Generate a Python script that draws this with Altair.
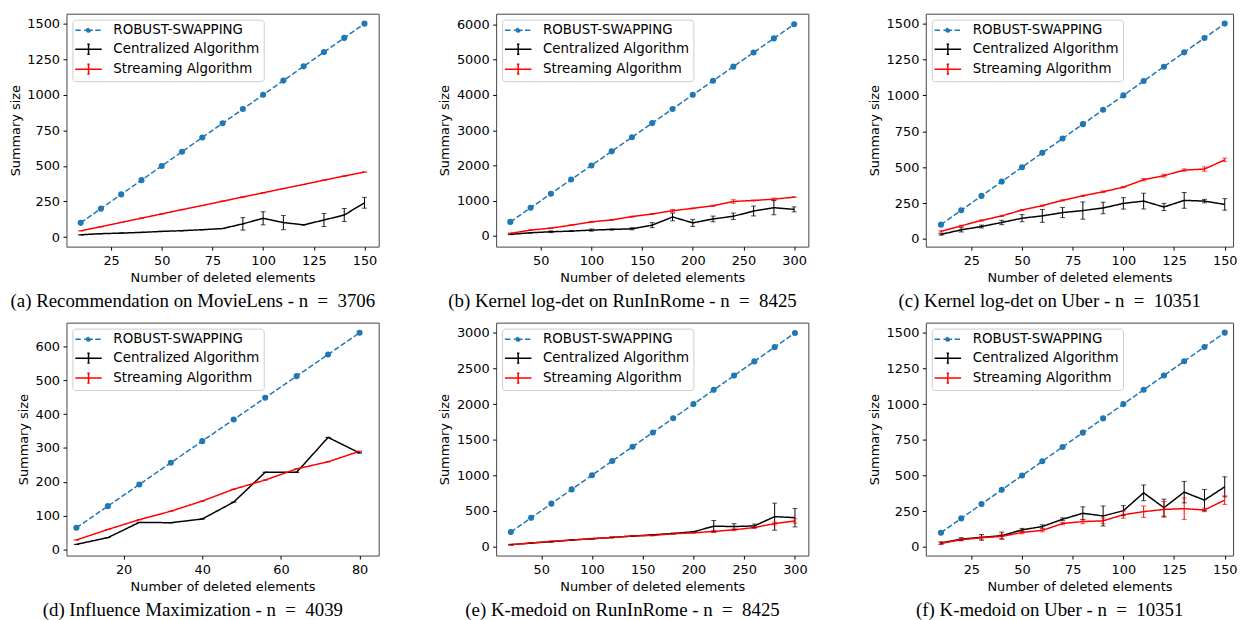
import altair as alt
import pandas as pd

SERIES = ["ROBUST-SWAPPING", "Centralized Algorithm", "Streaming Algorithm"]
COLORS = ["#1f77b4", "#000000", "#ff0000"]

# ---------------- (a) Recommendation on MovieLens ----------------
a_x = [10, 20, 30, 40, 50, 60, 70, 80, 90, 100, 110, 120, 130, 140, 150]
a_robust = [100, 200, 300, 400, 500, 600, 700, 800, 900, 1000, 1100, 1200, 1300, 1400, 1500]
a_cent = [16, 24, 28, 33, 40, 45, 52, 60, 93, 132, 102, 86, 120, 155, 241]
a_cent_err = [0, 0, 0, 0, 0, 0, 0, 0, 44, 46, 50, 2, 46, 46, 38]
a_stream = [44, 73, 103, 133, 163, 193, 222, 252, 282, 311, 341, 370, 400, 429, 457]
a_stream_err = [0, 0, 0, 0, 0, 0, 0, 0, 0, 0, 0, 0, 0, 0, 0]

# ---------------- (b) Kernel log-det on RunInRome ----------------
b_x = [20, 40, 60, 80, 100, 120, 140, 160, 180, 200, 220, 240, 260, 280, 300]
b_robust = [400, 800, 1200, 1600, 2000, 2400, 2800, 3200, 3600, 4000, 4400, 4800, 5200, 5600, 6000]
b_cent = [47, 93, 121, 140, 168, 187, 205, 308, 541, 373, 485, 560, 709, 802, 756]
b_cent_err = [10, 10, 25, 10, 30, 15, 30, 70, 110, 100, 80, 90, 140, 200, 70]
b_stream = [75, 168, 224, 308, 401, 457, 550, 625, 718, 784, 858, 980, 1008, 1045, 1101]
b_stream_err = [10, 10, 10, 10, 15, 10, 15, 10, 35, 10, 15, 50, 10, 30, 10]

# ---------------- (c) Kernel log-det on Uber ----------------
c_x = [10, 20, 30, 40, 50, 60, 70, 80, 90, 100, 110, 120, 130, 140, 150]
c_robust = [100, 200, 300, 400, 500, 600, 700, 800, 900, 1000, 1100, 1200, 1300, 1400, 1500]
c_cent = [32, 64, 87, 115, 145, 161, 184, 198, 216, 248, 264, 223, 269, 264, 241]
c_cent_err = [5, 15, 10, 15, 25, 45, 35, 60, 40, 40, 55, 25, 55, 12, 40]
c_stream = [53, 92, 129, 161, 202, 232, 269, 301, 329, 361, 413, 441, 480, 487, 551]
c_stream_err = [5, 4, 4, 4, 4, 4, 4, 4, 6, 4, 8, 10, 8, 15, 12]

# ---------------- (d) Influence Maximization ----------------
d_x = [8, 16, 24, 32, 40, 48, 56, 64, 72, 80]
d_robust = [64, 128, 192, 256, 320, 384, 448, 512, 576, 640]
d_cent = [15, 35, 80, 79, 90, 140, 228, 228, 331, 285]
d_cent_err = [0, 0, 0, 0, 0, 0, 0, 0, 0, 0]
d_stream = [28, 59, 88, 113, 143, 178, 205, 238, 259, 290]
d_stream_err = [0, 0, 0, 0, 0, 0, 0, 0, 0, 0]

# ---------------- (e) K-medoid on RunInRome ----------------
e_x = [20, 40, 60, 80, 100, 120, 140, 160, 180, 200, 220, 240, 260, 280, 300]
e_robust = [200, 400, 600, 800, 1000, 1200, 1400, 1600, 1800, 2000, 2200, 2400, 2600, 2800, 3000]
e_cent = [23, 46, 65, 88, 107, 125, 144, 162, 181, 204, 283, 278, 287, 417, 403]
e_cent_err = [3, 3, 3, 3, 3, 3, 3, 3, 3, 5, 80, 40, 25, 190, 130]
e_stream = [23, 46, 70, 88, 107, 125, 144, 153, 176, 190, 209, 232, 264, 320, 357]
e_stream_err = [5, 5, 5, 5, 5, 5, 5, 5, 5, 5, 15, 12, 12, 20, 30]

# ---------------- (f) K-medoid on Uber ----------------
f_x = [10, 20, 30, 40, 50, 60, 70, 80, 90, 100, 110, 120, 130, 140, 150]
f_robust = [100, 200, 300, 400, 500, 600, 700, 800, 900, 1000, 1100, 1200, 1300, 1400, 1500]
f_cent = [28, 55, 67, 79, 120, 143, 194, 236, 217, 254, 379, 275, 384, 328, 421]
f_cent_err = [8, 10, 20, 25, 10, 12, 10, 45, 70, 35, 55, 60, 75, 75, 70]
f_stream = [25, 51, 65, 74, 102, 116, 164, 178, 183, 226, 247, 263, 268, 259, 328]
f_stream_err = [8, 8, 10, 15, 10, 10, 8, 15, 20, 25, 40, 55, 75, 12, 30]

SP = "\u2002"
CAPTIONS = [
    f"(a) Recommendation on MovieLens - n{SP}={SP}3706",
    f"(b) Kernel log-det on RunInRome - n{SP}={SP}8425",
    f"(c) Kernel log-det on Uber - n{SP}={SP}10351",
    f"(d) Influence Maximization - n{SP}={SP}4039",
    f"(e) K-medoid on RunInRome - n{SP}={SP}8425",
    f"(f) K-medoid on Uber - n{SP}={SP}10351",
]

# legend symbols (custom SVG paths, unit = sqrt(symbolSize)/2 px)
DOT = ("M-0.45,0A0.45,0.45 0 1,0 0.45,0A0.45,0.45 0 1,0 -0.45,0"
       "M-0.12,0A0.12,0.12 0 1,0 0.12,0A0.12,0.12 0 1,0 -0.12,0")
ROBUST_SYM = "M-3.34,0H-1.7M-1.1,0H-0.2M0.2,0H1.1M1.7,0H3.34" + DOT
ERR_SYM = "M-3.34,0H3.34M0,-1.25V1.25M-0.3,-1.25H0.3M-0.3,1.25H0.3"

color_scale = alt.Scale(domain=SERIES, range=COLORS)
shape_scale = alt.Scale(domain=SERIES, range=[ROBUST_SYM, ERR_SYM, ERR_SYM])
dash_scale = alt.Scale(domain=SERIES, range=[[5.5, 2.4], [1, 0], [1, 0]])

LEG = alt.Legend(
    title=None, orient="top-left", offset=6, symbolSize=64, symbolStrokeWidth=1.5,
    symbolOffset=5.5, labelOffset=18.3, padding=4, rowPadding=3.1,
    labelFontSize=13.5, labelFont="DejaVu Sans", labelColor="black", labelLimit=300,
    fillColor="rgba(255,255,255,0.85)", strokeColor="#cccccc", cornerRadius=3,
    symbolOpacity=1,
)


def make_df(x, robust, cent, cent_err, stream, stream_err):
    rows = []
    for xi, v in zip(x, robust):
        rows.append(dict(x=xi, y=v, series=SERIES[0], lo=v, hi=v))
    for xi, v, e in zip(x, cent, cent_err):
        rows.append(dict(x=xi, y=v, series=SERIES[1], lo=v - e, hi=v + e))
    for xi, v, e in zip(x, stream, stream_err):
        rows.append(dict(x=xi, y=v, series=SERIES[2], lo=v - e, hi=v + e))
    return pd.DataFrame(rows)


def panel(df, xdom, ydom, xticks, yticks, width, caption):
    xscale = alt.Scale(domain=xdom, nice=False, zero=False)
    yscale = alt.Scale(domain=ydom, nice=False, zero=False)
    xaxis = alt.Axis(values=xticks, title="Number of deleted elements", format="d")
    yaxis = alt.Axis(values=yticks, title="Summary size", format="d")
    X = alt.X("x:Q", scale=xscale, axis=xaxis)

    def Y(field):
        return alt.Y(field + ":Q", scale=yscale, axis=yaxis)

    col = alt.Color("series:N", scale=color_scale, legend=None)
    base = alt.Chart(df)
    carrier = base.mark_point(opacity=0).encode(
        x=X, y=Y("y"),
        color=alt.Color("series:N", scale=color_scale, legend=LEG),
        shape=alt.Shape("series:N", scale=shape_scale, legend=LEG),
    )
    lines = base.mark_line(strokeWidth=1.5).encode(
        x=X, y=Y("y"), color=col,
        strokeDash=alt.StrokeDash("series:N", scale=dash_scale, legend=None),
    )
    pts = base.transform_filter(alt.datum.series == SERIES[0]).mark_circle(
        size=38, opacity=1).encode(x=X, y=Y("y"), color=col)
    eb = base.transform_filter(alt.datum.series != SERIES[0])
    rules = eb.mark_rule(strokeWidth=1).encode(x=X, y=Y("lo"), y2="hi:Q", color=col)
    cap_lo = eb.mark_tick(orient="horizontal", size=5, thickness=1).encode(
        x=X, y=Y("lo"), color=col)
    cap_hi = eb.mark_tick(orient="horizontal", size=5, thickness=1).encode(
        x=X, y=Y("hi"), color=col)
    return alt.layer(carrier, lines, pts, rules, cap_lo, cap_hi).properties(
        width=width, height=235,
        title=alt.TitleParams(
            text=caption, orient="bottom", anchor="middle", font="Liberation Serif",
            fontSize=19, fontWeight="normal", color="black", offset=8, dx=-30),
    )


pa = panel(make_df(a_x, a_robust, a_cent, a_cent_err, a_stream, a_stream_err),
           [3, 157], [-67, 1570], [25, 50, 75, 100, 125, 150],
           [0, 250, 500, 750, 1000, 1250, 1500], 315, CAPTIONS[0])
pb = panel(make_df(b_x, b_robust, b_cent, b_cent_err, b_stream, b_stream_err),
           [6, 314], [-300, 6300], [50, 100, 150, 200, 250, 300],
           [0, 1000, 2000, 3000, 4000, 5000, 6000], 315, CAPTIONS[1])
pc = panel(make_df(c_x, c_robust, c_cent, c_cent_err, c_stream, c_stream_err),
           [2.52, 154.1], [-53, 1569], [25, 50, 75, 100, 125, 150],
           [0, 250, 500, 750, 1000, 1250, 1500], 310, CAPTIONS[2])
pd_ = panel(make_df(d_x, d_robust, d_cent, d_cent_err, d_stream, d_stream_err),
            [5.48, 84.86], [-18, 670], [20, 40, 60, 80],
            [0, 100, 200, 300, 400, 500, 600], 315, CAPTIONS[3])
pe = panel(make_df(e_x, e_robust, e_cent, e_cent_err, e_stream, e_stream_err),
           [5.55, 313.2], [-130, 3145], [50, 100, 150, 200, 250, 300],
           [0, 500, 1000, 1500, 2000, 2500, 3000], 315, CAPTIONS[4])
pf = panel(make_df(f_x, f_robust, f_cent, f_cent_err, f_stream, f_stream_err),
           [2.52, 154.1], [-60, 1570], [25, 50, 75, 100, 125, 150],
           [0, 250, 500, 750, 1000, 1250, 1500], 310, CAPTIONS[5])

chart = alt.concat(
    pa, pb, pc, pd_, pe, pf, columns=3,
    spacing=alt.RowColnumber(row=76.7, column=118.5), bounds="flush",
).resolve_scale(
    color="independent", shape="independent", strokeDash="independent"
).resolve_legend(
    color="independent", shape="independent"
).properties(
    padding={"left": 0, "top": 2, "right": 0, "bottom": 0}
).configure_view(
    stroke="#444444", strokeWidth=1
).configure_axis(
    labelFont="DejaVu Sans", labelFontSize=13, labelColor="black",
    titleFont="DejaVu Sans", titleFontSize=13, titleFontWeight="normal", titleColor="black",
    tickColor="black", tickSize=3.5, domain=False, grid=False,
).configure_axisY(titlePadding=4.5, labelPadding=3.5).configure_axisX(
    titlePadding=4, labelPadding=4.5)

chart.save("out.html", embed_options={"renderer": "svg", "actions": False})
